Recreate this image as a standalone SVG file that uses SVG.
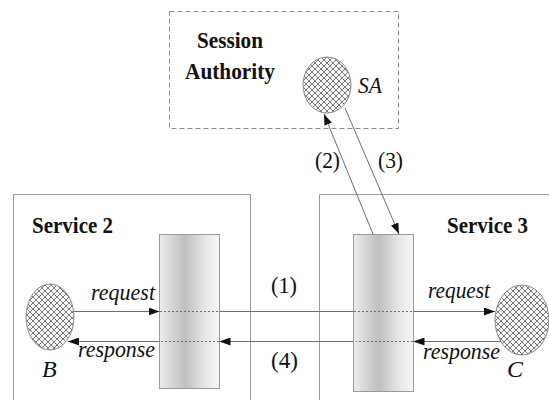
<svg xmlns="http://www.w3.org/2000/svg" width="549" height="400" viewBox="0 0 549 400">
  <style>
    .frame { fill: none; stroke: #9a9a9a; stroke-width: 1; }
    .dash { fill: none; stroke: #8a8a8a; stroke-width: 1; stroke-dasharray: 5 3; }
    .bar { fill: url(#barShade); stroke: #9a9a9a; stroke-width: 1; }
    .entity { fill: url(#hatch); stroke: #8a8a8a; stroke-width: 1; }
    .link { fill: none; stroke: #6e6e6e; stroke-width: 1; }
    .through { fill: none; stroke: #6e6e6e; stroke-width: 1; stroke-dasharray: 2 2; }
  </style>
  <defs>
    <linearGradient id="barShade" x1="0" y1="0" x2="1" y2="0">
      <stop offset="0" stop-color="#ececec"/>
      <stop offset="0.42" stop-color="#bfbfbf"/>
      <stop offset="0.75" stop-color="#e6e6e6"/>
      <stop offset="1" stop-color="#f6f6f6"/>
    </linearGradient>
    <pattern id="hatch" patternUnits="userSpaceOnUse" width="6" height="6">
      <rect width="6" height="6" fill="#f6f6f6"/>
      <path d="M0,0 L6,6 M6,0 L0,6" stroke="#666" stroke-width="0.85"/>
    </pattern>
    <marker id="head" markerUnits="userSpaceOnUse" markerWidth="11" markerHeight="8" refX="11" refY="4" orient="auto">
      <path d="M0,0 L11,4 L0,8 z" fill="#111"/>
    </marker>
  </defs>

  <!-- session authority -->
  <g id="session-authority">
    <rect class="dash" x="169.5" y="11.5" width="229" height="117"/>
    <text font-family="Liberation Serif" font-size="24" font-weight="bold" fill="#111" x="197" y="48" textLength="66" lengthAdjust="spacingAndGlyphs">Session</text>
    <text font-family="Liberation Serif" font-size="24" font-weight="bold" fill="#111" x="185" y="79" textLength="90" lengthAdjust="spacingAndGlyphs">Authority</text>
  </g>
  <g id="SA">
    <ellipse class="entity" cx="327" cy="85" rx="24" ry="28"/>
    <text font-family="Liberation Serif" font-size="24" font-style="italic" fill="#111" x="358" y="93" textLength="24" lengthAdjust="spacingAndGlyphs">SA</text>
  </g>

  <!-- service 2 -->
  <g id="service2">
    <path class="frame" d="M13.5,401 V194.5 H250.5 V401"/>
    <text font-family="Liberation Serif" font-size="24" font-weight="bold" fill="#111" x="32" y="233" textLength="81" lengthAdjust="spacingAndGlyphs">Service 2</text>
  </g>
  <g id="proxy2">
    <rect class="bar" x="159.5" y="234.5" width="60" height="154"/>
  </g>
  <g id="B">
    <ellipse class="entity" cx="50" cy="317" rx="24" ry="33"/>
    <text font-family="Liberation Serif" font-size="24" font-style="italic" fill="#111" x="42" y="377">B</text>
  </g>

  <!-- service 3 -->
  <g id="service3">
    <path class="frame" d="M550,194.5 H319.5 V401"/>
    <text font-family="Liberation Serif" font-size="24" font-weight="bold" fill="#111" x="447" y="233" textLength="81" lengthAdjust="spacingAndGlyphs">Service 3</text>
  </g>
  <g id="proxy3">
    <rect class="bar" x="353.5" y="234.5" width="60" height="157"/>
  </g>
  <g id="C">
    <ellipse class="entity" cx="522" cy="320" rx="27" ry="35"/>
    <text font-family="Liberation Serif" font-size="24" font-style="italic" fill="#111" x="507" y="377">C</text>
  </g>

  <!-- connectors -->
  <g id="connectors">
    <!-- request path B -> C -->
    <line class="link" x1="74" y1="311.5" x2="159.5" y2="311.5" marker-end="url(#head)"/>
    <line class="through" x1="160" y1="311.5" x2="219" y2="311.5"/>
    <line class="link" x1="219.5" y1="311.5" x2="353.5" y2="311.5"/>
    <line class="through" x1="354" y1="311.5" x2="413" y2="311.5"/>
    <line class="link" x1="413.5" y1="311.5" x2="495" y2="311.5" marker-end="url(#head)"/>
    <!-- response path C -> B -->
    <line class="link" x1="501" y1="341.5" x2="413.5" y2="341.5" marker-end="url(#head)"/>
    <line class="through" x1="413" y1="341.5" x2="356" y2="341.5"/>
    <line class="link" x1="353.5" y1="341.5" x2="219.5" y2="341.5" marker-end="url(#head)"/>
    <line class="through" x1="219" y1="341.5" x2="160" y2="341.5"/>
    <line class="link" x1="159.5" y1="341.5" x2="68" y2="341.5" marker-end="url(#head)"/>
    <!-- (2) proxy -> SA, (3) SA -> proxy -->
    <line class="link" x1="373" y1="234" x2="324" y2="114" marker-end="url(#head)"/>
    <line class="link" x1="345" y1="108" x2="399" y2="234" marker-end="url(#head)"/>
    <text font-family="Liberation Serif" font-size="24" fill="#111" x="271" y="293" textLength="26" lengthAdjust="spacingAndGlyphs">(1)</text>
    <text font-family="Liberation Serif" font-size="24" fill="#111" x="271" y="368" textLength="27" lengthAdjust="spacingAndGlyphs">(4)</text>
    <text font-family="Liberation Serif" font-size="24" fill="#111" x="315" y="168" textLength="25" lengthAdjust="spacingAndGlyphs">(2)</text>
    <text font-family="Liberation Serif" font-size="24" fill="#111" x="378" y="168" textLength="25" lengthAdjust="spacingAndGlyphs">(3)</text>
    <text font-family="Liberation Serif" font-size="24" font-style="italic" fill="#111" x="91" y="300" textLength="64" lengthAdjust="spacingAndGlyphs">request</text>
    <text font-family="Liberation Serif" font-size="24" font-style="italic" fill="#111" x="78" y="357" textLength="77" lengthAdjust="spacingAndGlyphs">response</text>
    <text font-family="Liberation Serif" font-size="24" font-style="italic" fill="#111" x="428" y="298" textLength="62" lengthAdjust="spacingAndGlyphs">request</text>
    <text font-family="Liberation Serif" font-size="24" font-style="italic" fill="#111" x="423" y="359" textLength="77" lengthAdjust="spacingAndGlyphs">response</text>
  </g>
</svg>
